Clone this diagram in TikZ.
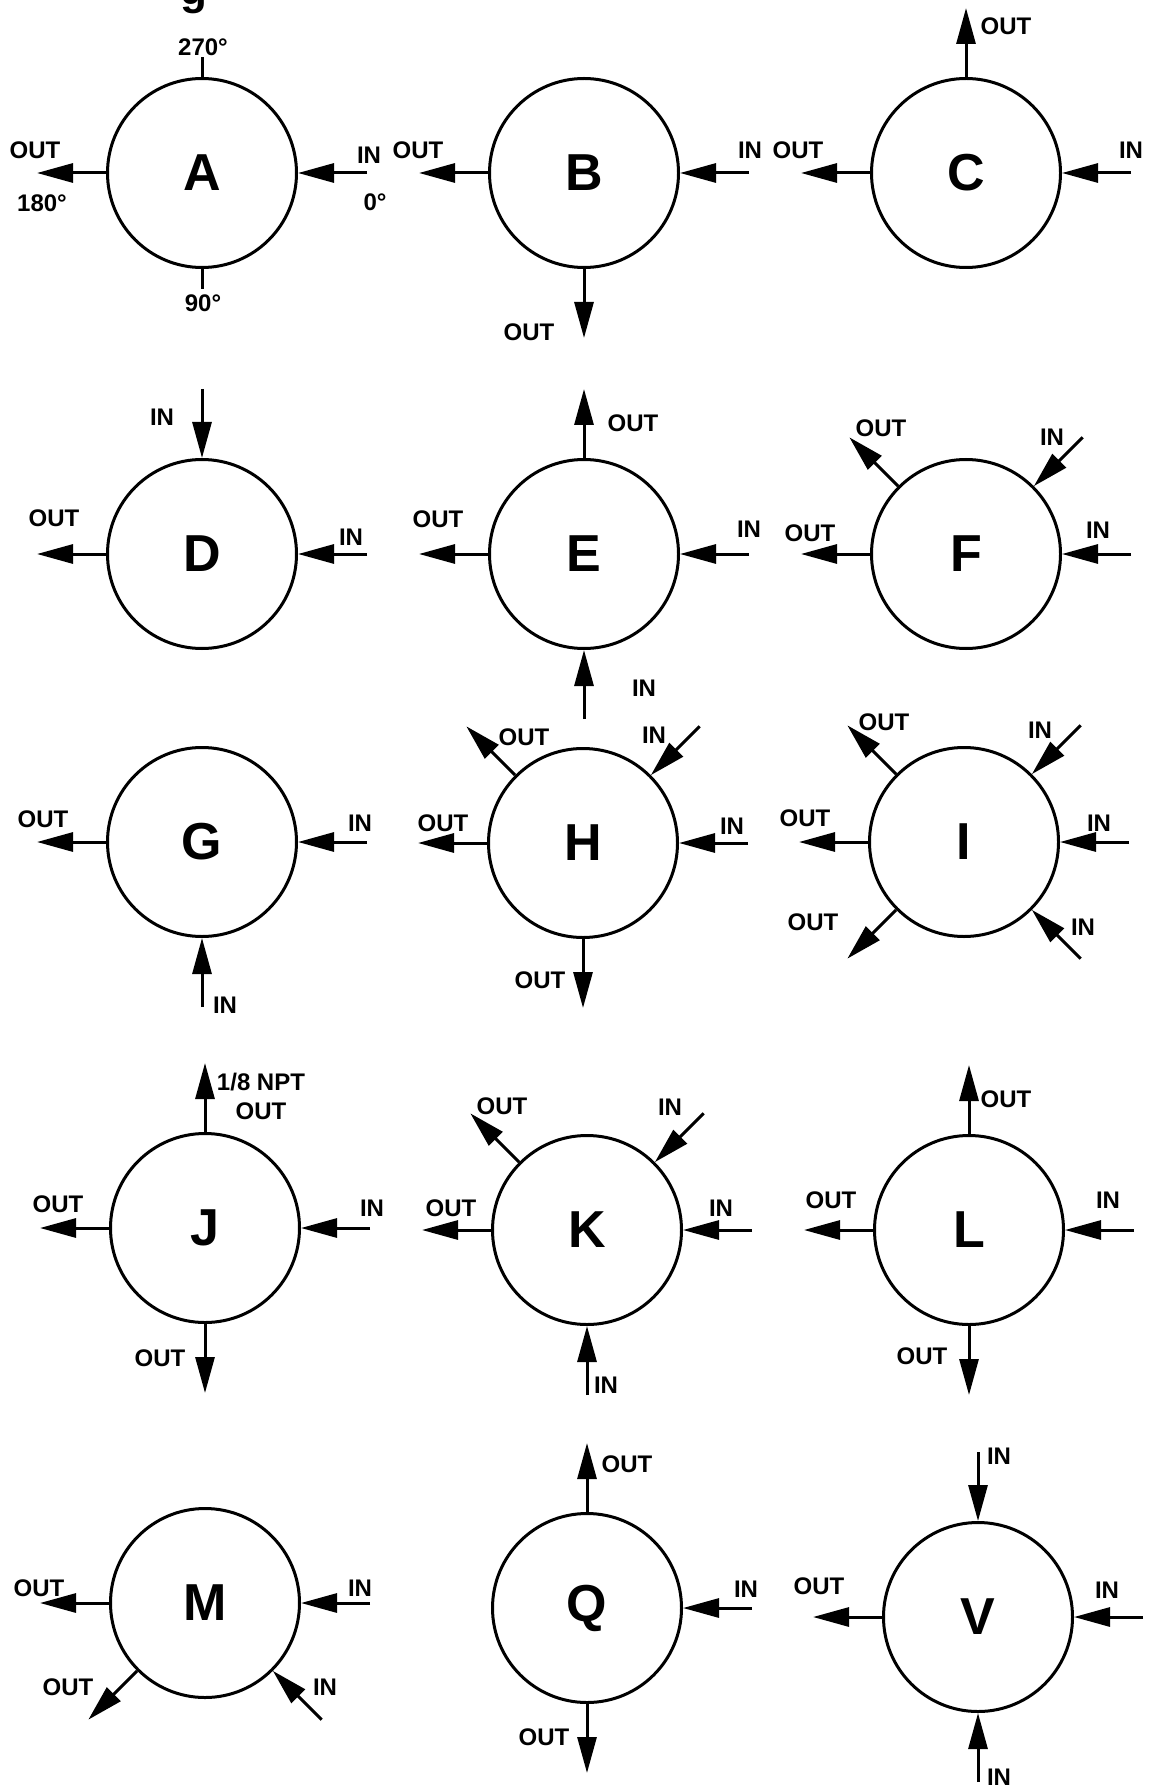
\documentclass[tikz,border=0pt]{standalone}
\usepackage{fontspec}
\setmainfont{Liberation Sans}
\usetikzlibrary{arrows.meta}
\tikzset{
  port/.style={circle, draw, line width=1.5pt, minimum size=94.5pt, inner sep=0pt, font=\bfseries\fontsize{26}{26}\selectfont},
  lbl/.style={font=\bfseries\fontsize{12}{14.5}\selectfont, inner sep=0pt},
  flow/.style={line width=1.5pt, -{Triangle[length=18pt,width=9.5pt]}},
  degtick/.style={line width=1.5pt}
}
\begin{document}
\begin{tikzpicture}[x=0.5pt, y=-0.5pt]
\useasboundingbox (0,0) rectangle (1152,1786);
\node[font=\bfseries\fontsize{22}{22}\selectfont, anchor=base] (title) at (194,5) {g};
% row 1
\node[port] (A) at (202,173) {A};
\path (A) ++(180:165) coordinate (Aw) (A) ++(0:165) coordinate (Ae);
\path (A) ++(270:116) coordinate (An) (A) ++(90:116) coordinate (As);
\draw[flow] (A) -- (Aw);
\draw[flow] (Ae) -- (A);
\draw[degtick] (A) -- (An);
\draw[degtick] (A) -- (As);
\node[lbl] (Aw-l) at (35,150) {OUT};
\node[lbl] (Aw-d) at (42,203) {180°};
\node[lbl] (Ae-l) at (369,155) {IN};
\node[lbl] (Ae-d) at (375,202) {0°};
\node[lbl] (An-d) at (203,47) {270°};
\node[lbl] (As-d) at (203,303) {90°};
\node[port] (B) at (584,173) {B};
\path (B) ++(180:165) coordinate (Bw) (B) ++(0:165) coordinate (Be) (B) ++(90:165) coordinate (Bs);
\draw[flow] (B) -- (Bw);
\draw[flow] (Be) -- (B);
\draw[flow] (B) -- (Bs);
\node[lbl] (Bw-l) at (418,150) {OUT};
\node[lbl] (Be-l) at (750,150) {IN};
\node[lbl] (Bs-l) at (529,332) {OUT};
\node[port] (C) at (966,173) {C};
\path (C) ++(180:165) coordinate (Cw) (C) ++(0:165) coordinate (Ce) (C) ++(270:165) coordinate (Cn);
\draw[flow] (C) -- (Cn);
\draw[flow] (C) -- (Cw);
\draw[flow] (Ce) -- (C);
\node[lbl] (Cn-l) at (1006,26) {OUT};
\node[lbl] (Cw-l) at (798,150) {OUT};
\node[lbl] (Ce-l) at (1131,150) {IN};
% row 2
\node[port] (D) at (202,554) {D};
\path (D) ++(180:165) coordinate (Dw) (D) ++(0:165) coordinate (De) (D) ++(270:165) coordinate (Dn);
\draw[flow] (Dn) -- (D);
\draw[flow] (D) -- (Dw);
\draw[flow] (De) -- (D);
\node[lbl] (Dn-l) at (162,417) {IN};
\node[lbl] (Dw-l) at (54,518) {OUT};
\node[lbl] (De-l) at (351,537) {IN};
\node[port] (E) at (584,554) {E};
\path (E) ++(180:165) coordinate (Ew) (E) ++(0:165) coordinate (Ee) (E) ++(270:165) coordinate (En) (E) ++(90:165) coordinate (Es);
\draw[flow] (E) -- (En);
\draw[flow] (E) -- (Ew);
\draw[flow] (Ee) -- (E);
\draw[flow] (Es) -- (E);
\node[lbl] (En-l) at (633,423) {OUT};
\node[lbl] (Ew-l) at (438,519) {OUT};
\node[lbl] (Ee-l) at (749,529) {IN};
\node[lbl] (Es-l) at (644,688) {IN};
\node[port] (F) at (966,554) {F};
\path (F) ++(180:165) coordinate (Fw) (F) ++(0:165) coordinate (Fe) (F) ++(225:165) coordinate (Fnw) (F) ++(315:165) coordinate (Fne);
\draw[flow] (F) -- (Fnw);
\draw[flow] (Fne) -- (F);
\draw[flow] (F) -- (Fw);
\draw[flow] (Fe) -- (F);
\node[lbl] (Fnw-l) at (881,428) {OUT};
\node[lbl] (Fne-l) at (1052,437) {IN};
\node[lbl] (Fw-l) at (810,533) {OUT};
\node[lbl] (Fe-l) at (1098,530) {IN};
% row 3
\node[port] (G) at (202,842) {G};
\path (G) ++(180:165) coordinate (Gw) (G) ++(0:165) coordinate (Ge) (G) ++(90:165) coordinate (Gs);
\draw[flow] (G) -- (Gw);
\draw[flow] (Ge) -- (G);
\draw[flow] (Gs) -- (G);
\node[lbl] (Gw-l) at (43,819) {OUT};
\node[lbl] (Ge-l) at (360,823) {IN};
\node[lbl] (Gs-l) at (225,1005) {IN};
\node[port] (H) at (583,843) {H};
\path (H) ++(180:165) coordinate (Hw) (H) ++(0:165) coordinate (He) (H) ++(90:165) coordinate (Hs) (H) ++(225:165) coordinate (Hnw) (H) ++(315:165) coordinate (Hne);
\draw[flow] (H) -- (Hnw);
\draw[flow] (Hne) -- (H);
\draw[flow] (H) -- (Hw);
\draw[flow] (He) -- (H);
\draw[flow] (H) -- (Hs);
\node[lbl] (Hnw-l) at (524,737) {OUT};
\node[lbl] (Hne-l) at (654,735) {IN};
\node[lbl] (Hw-l) at (443,823) {OUT};
\node[lbl] (He-l) at (732,826) {IN};
\node[lbl] (Hs-l) at (540,980) {OUT};
\node[port] (I) at (964,842) {I};
\path (I) ++(180:165) coordinate (Iw) (I) ++(0:165) coordinate (Ie) (I) ++(225:165) coordinate (Inw) (I) ++(315:165) coordinate (Ine) (I) ++(135:165) coordinate (Isw) (I) ++(45:165) coordinate (Ise);
\draw[flow] (I) -- (Inw);
\draw[flow] (Ine) -- (I);
\draw[flow] (I) -- (Iw);
\draw[flow] (Ie) -- (I);
\draw[flow] (I) -- (Isw);
\draw[flow] (Ise) -- (I);
\node[lbl] (Inw-l) at (884,722) {OUT};
\node[lbl] (Ine-l) at (1040,730) {IN};
\node[lbl] (Iw-l) at (805,818) {OUT};
\node[lbl] (Ie-l) at (1099,823) {IN};
\node[lbl] (Isw-l) at (813,922) {OUT};
\node[lbl] (Ise-l) at (1083,927) {IN};
% row 4
\node[port] (J) at (205,1228) {J};
\path (J) ++(180:165) coordinate (Jw) (J) ++(0:165) coordinate (Je) (J) ++(270:165) coordinate (Jn) (J) ++(90:165) coordinate (Js);
\draw[flow] (J) -- (Jn);
\draw[flow] (J) -- (Jw);
\draw[flow] (Je) -- (J);
\draw[flow] (J) -- (Js);
\node[lbl, align=center] (Jn-l) at (261,1096) {1/8 NPT\\OUT};
\node[lbl] (Jw-l) at (58,1204) {OUT};
\node[lbl] (Je-l) at (372,1208) {IN};
\node[lbl] (Js-l) at (160,1358) {OUT};
\node[port] (K) at (587,1230) {K};
\path (K) ++(180:165) coordinate (Kw) (K) ++(0:165) coordinate (Ke) (K) ++(90:165) coordinate (Ks) (K) ++(225:165) coordinate (Knw) (K) ++(315:165) coordinate (Kne);
\draw[flow] (K) -- (Knw);
\draw[flow] (Kne) -- (K);
\draw[flow] (K) -- (Kw);
\draw[flow] (Ke) -- (K);
\draw[flow] (Ks) -- (K);
\node[lbl] (Knw-l) at (502,1106) {OUT};
\node[lbl] (Kne-l) at (670,1107) {IN};
\node[lbl] (Kw-l) at (451,1208) {OUT};
\node[lbl] (Ke-l) at (721,1208) {IN};
\node[lbl] (Ks-l) at (606,1385) {IN};
\node[port] (L) at (969,1230) {L};
\path (L) ++(180:165) coordinate (Lw) (L) ++(0:165) coordinate (Le) (L) ++(270:165) coordinate (Ln) (L) ++(90:165) coordinate (Ls);
\draw[flow] (L) -- (Ln);
\draw[flow] (L) -- (Lw);
\draw[flow] (Le) -- (L);
\draw[flow] (L) -- (Ls);
\node[lbl] (Ln-l) at (1006,1099) {OUT};
\node[lbl] (Lw-l) at (831,1200) {OUT};
\node[lbl] (Le-l) at (1108,1200) {IN};
\node[lbl] (Ls-l) at (922,1356) {OUT};
% row 5
\node[port] (M) at (205,1603) {M};
\path (M) ++(180:165) coordinate (Mw) (M) ++(0:165) coordinate (Me) (M) ++(135:165) coordinate (Msw) (M) ++(45:165) coordinate (Mse);
\draw[flow] (M) -- (Mw);
\draw[flow] (Me) -- (M);
\draw[flow] (M) -- (Msw);
\draw[flow] (Mse) -- (M);
\node[lbl] (Mw-l) at (39,1588) {OUT};
\node[lbl] (Me-l) at (360,1588) {IN};
\node[lbl] (Msw-l) at (68,1687) {OUT};
\node[lbl] (Mse-l) at (325,1687) {IN};
\node[port] (Q) at (587,1608) {Q};
\path (Q) ++(0:165) coordinate (Qe) (Q) ++(270:165) coordinate (Qn) (Q) ++(90:165) coordinate (Qs);
\draw[flow] (Q) -- (Qn);
\draw[flow] (Qe) -- (Q);
\draw[flow] (Q) -- (Qs);
\node[lbl] (Qn-l) at (627,1464) {OUT};
\node[lbl] (Qe-l) at (746,1589) {IN};
\node[lbl] (Qs-l) at (544,1737) {OUT};
\node[port] (V) at (978,1617) {V};
\path (V) ++(180:165) coordinate (Vw) (V) ++(0:165) coordinate (Ve) (V) ++(270:165) coordinate (Vn) (V) ++(90:165) coordinate (Vs);
\draw[flow] (Vn) -- (V);
\draw[flow] (V) -- (Vw);
\draw[flow] (Ve) -- (V);
\draw[flow] (Vs) -- (V);
\node[lbl] (Vn-l) at (999,1456) {IN};
\node[lbl] (Vw-l) at (819,1586) {OUT};
\node[lbl] (Ve-l) at (1107,1590) {IN};
\node[lbl] (Vs-l) at (999,1777) {IN};
\end{tikzpicture}
\end{document}
